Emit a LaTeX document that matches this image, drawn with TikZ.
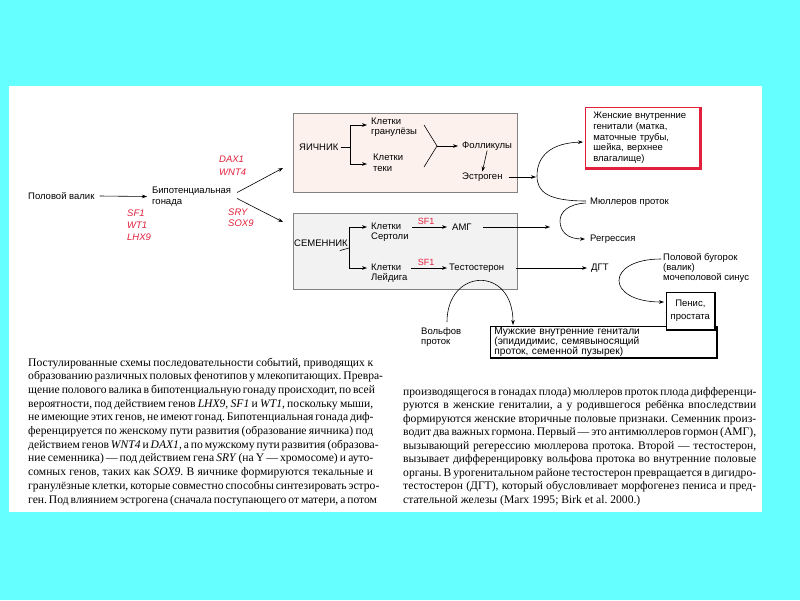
\documentclass[tikz,border=0pt]{standalone}
\usepackage{fontspec}
\setmainfont{Liberation Serif}
\setsansfont{Liberation Sans}
\usetikzlibrary{arrows.meta}
\definecolor{bgcyan}{RGB}{102,255,255}
\definecolor{gred}{RGB}{226,32,60}
\definecolor{ovfill}{RGB}{252,241,236}
\definecolor{tsfill}{RGB}{242,242,242}
\definecolor{boxgray}{RGB}{130,130,130}
\frenchspacing
\begin{document}
\begin{tikzpicture}[x=1pt,y=-1pt,
  lbl/.style={font=\sffamily\fontsize{9.5}{10.5}\selectfont, inner sep=0pt, align=left},
  gene/.style={font=\sffamily\itshape\fontsize{9.5}{12}\selectfont, text=gred, inner sep=0pt, align=left},
  sfgene/.style={font=\sffamily\fontsize{9}{10}\selectfont, text=gred, inner sep=0pt},
  arr/.style={-{Stealth[length=5pt,width=3.6pt]}, line width=0.6pt},
  ln/.style={line width=0.6pt},
  gonad/.style={draw=boxgray, line width=0.8pt, anchor=north west, minimum width=224pt, inner sep=0pt},
  outbox/.style={draw, line width=0.7pt, fill=white, anchor=north west, font=\sffamily\fontsize{9.5}{10.8}\selectfont},
  capl/.style={font=\rmfamily\fontsize{11.6}{13.7}\selectfont, inner sep=0pt, anchor=base west}
]
\useasboundingbox (0,0) rectangle (800,600);
\fill[bgcyan] (0,0) rectangle (800,600);
\fill[white] (9,86) rectangle (762,512);

% ---------- left part
\node[lbl, anchor=west] (valik) at (28,196) {Половой валик};
\node[lbl, anchor=west] (bip) at (152,196.5) {Бипотенциальная\\гонада};
\draw[arr] ([xshift=5pt]valik.east) -- ([xshift=-5pt]bip.west);
\node[gene, anchor=west] (g1) at (127,225.5) {SF1\\WT1\\LHX9};
\node[gene, anchor=west, font=\sffamily\itshape\fontsize{9.5}{13}\selectfont] (g2) at (219,165.5) {DAX1\\WNT4};
\node[gene, anchor=west, font=\sffamily\itshape\fontsize{9.5}{11}\selectfont] (g3) at (228,218) {SRY\\SOX9};
\coordinate (up) at (283,168);
\coordinate (dn) at (283,222);
\draw[arr] ([shift={(6pt,4pt)}]bip.east) -- (up);
\draw[arr] ([shift={(6pt,-2pt)}]bip.east) -- (dn);

% ---------- ovary
\node[gonad, fill=ovfill, minimum height=79pt] (ovbox) at (293,113) {};
\node[lbl, anchor=west] (yaich) at (299,147) {ЯИЧНИК};
\node[lbl, anchor=west] (gran) at (371,127) {Клетки\\гранулёзы};
\node[lbl, anchor=west] (teki) at (373,163) {Клетки\\теки};
\coordinate (ysplit) at (350,147);
\draw[ln] ([xshift=2pt]yaich.east) -- (ysplit);
\draw[arr] (ysplit) |- ([shift={(-4pt,2pt)}]gran.west);
\draw[arr] (ysplit) |- ([shift={(-6pt,-1pt)}]teki.west);
\coordinate (yj) at (437,146);
\draw[ln] (424,125) -- (yj) -- (424,167);
\node[lbl, anchor=west] (foll) at (462,146) {Фолликулы};
\draw[arr] (yj) -- ([xshift=-4pt]foll.west);
\node[lbl, anchor=west] (estr) at (462,177) {Эстроген};
\draw[arr] (foll.south) -- ([yshift=1pt]estr.north);
\coordinate (loopL) at (536,177);
\draw[arr] ([xshift=6pt]estr.east) -- (loopL);

% ---------- female targets
\node[outbox, draw=gred, minimum width=115pt, minimum height=61pt, text width=99pt,
      inner xsep=8pt, inner ysep=0pt, align=left] (fem) at (585,107)
  {Женские внутренние\\генитали (матка,\\маточные трубы,\\шейка, верхнее\\влагалище)};
\draw[gred, line width=2.6pt] (fem.north east) -- (fem.south east) -- (fem.south west);
\node[lbl, anchor=west] (mul) at (590,202) {Мюллеров проток};
\node[lbl, anchor=west] (regr) at (590,239) {Регрессия};
\coordinate (femin) at (583,142);
\draw[arr] ([shift={(-4pt,1pt)}]mul.west) .. controls (548,201) and (537,192) .. (537,176)
  .. controls (537,155) and (552,143) .. (femin);
\draw[arr] ([shift={(-4pt,-1pt)}]mul.west) .. controls (568,204) and (560,212) .. (560,221)
  .. controls (560,232) and (568,239) .. ([xshift=-5pt]regr.west);

% ---------- testis
\node[gonad, fill=tsfill, minimum height=76pt] (tsbox) at (293,213) {};
\node[lbl, anchor=west] (sem) at (294,243) {СЕМЕННИК};
\coordinate (sj) at (349,248);
\draw[ln] ([shift={(-8pt,-4pt)}]sem.south east) -- (sj);
\draw[arr] (sj) |- (367,227);
\draw[arr] (sj) |- (367,268);
\node[lbl, anchor=west] (sert) at (371,232) {Клетки\\Сертоли};
\node[lbl, anchor=west] (leyd) at (371,273) {Клетки\\Лейдига};
\node[lbl, anchor=west] (amg) at (452,227) {АМГ};
\node[lbl, anchor=west] (testo) at (449,268) {Тестостерон};
\draw[arr] ([xshift=3pt]sert.east |- amg.west) -- ([xshift=-5pt]amg.west);
\draw[arr] ([xshift=3pt]leyd.east |- testo.west) -- ([xshift=-2pt]testo.west);
\node[sfgene] (sf1a) at (426,221) {SF1};
\node[sfgene] (sf1b) at (426,262) {SF1};
\coordinate (amgend) at (550,227);
\draw[arr] ([xshift=11pt]amg.east) -- (amgend);
\node[lbl, anchor=west] (dgt) at (591,268) {ДГТ};
\draw[arr] ([xshift=12pt]testo.east) -- ([xshift=-4pt]dgt.west);

% ---------- male targets
\node[outbox, minimum width=226pt, minimum height=31pt, text width=218pt,
      inner xsep=4pt, inner ysep=0pt, align=left, font=\sffamily\fontsize{10.2}{9.7}\selectfont] (male) at (490,326)
  {Мужские внутренние генитали\\(эпидидимис, семявыносящий\\проток, семенной пузырек)};
\draw[line width=2.4pt] (male.north east) -- (male.south east) -- (male.south west);
\node[lbl, anchor=west] (volf) at (421,337) {Вольфов\\проток};
\coordinate (volfst) at (447,322);
\coordinate (malein) at (513,325);
\draw[arr] (volfst) .. controls (447,268) and (513,265) .. (malein);

\node[outbox, minimum width=48pt, minimum height=37pt, inner sep=0pt, align=center,
      font=\sffamily\fontsize{9.5}{12.5}\selectfont] (pen) at (666,292) {Пенис,\\простата};
\draw[line width=2.2pt] (pen.north east) -- (pen.south east) -- (pen.south west);
\node[lbl, anchor=west, font=\sffamily\fontsize{9.5}{10}\selectfont] (bug) at (663,268)
  {Половой бугорок\\(валик)\\мочеполовой синус};
\coordinate (bugst) at (661,259);
\coordinate (penin) at (664,302);
\draw[arr] (bugst) .. controls (605,259) and (605,302) .. (penin);

% ---------- caption
\foreach \t [count=\i] in {
 {Постулированные схемы последовательности событий, приводящих к},
 {образованию различных половых фенотипов у млекопитающих. Превра-},
 {щение полового валика в бипотенциальную гонаду происходит, по всей},
 {вероятности, под действием генов \textit{LHX9, SF1} и \textit{WT1}, поскольку мыши,},
 {не имеющие этих генов, не имеют гонад. Бипотенциальная гонада диф-},
 {ференцируется по женскому пути развития (образование яичника) под},
 {действием генов \textit{WNT4} и \textit{DAX1}, а по мужскому пути развития (образова-},
 {ние семенника) — под действием гена \textit{SRY} (на Y — хромосоме) и ауто-},
 {сомных генов, таких как \textit{SOX9.} В яичнике формируются текальные и},
 {гранулёзные клетки, которые совместно способны синтезировать эстро-},
 {ген. Под влиянием эстрогена (сначала поступающего от матери, а потом}}
 \node[capl] (cl\i) at (28,{366+13.7*(\i-1)}) {\hbox to 345pt{\t}};

\foreach \t [count=\i] in {
 {производящегося в гонадах плода) мюллеров проток плода дифференци-},
 {руются в женские гениталии, а у родившегося ребёнка впоследствии},
 {формируются женские вторичные половые признаки. Семенник произ-},
 {водит два важных гормона. Первый — это антимюллеров гормон (АМГ),},
 {вызывающий регерессию мюллерова протока. Второй — тестостерон,},
 {вызывает дифференцировку вольфова протока во внутренние половые},
 {органы. В урогенитальном районе тестостерон превращается в дигидро-},
 {тестостерон (ДГТ), который обусловливает морфогенез пениса и пред-}}
 \node[capl] (cr\i) at (403,{395+13.5*(\i-1)}) {\hbox to 353pt{\t}};
\node[capl] (cr9) at (403,{395+13.5*8}) {стательной железы (Marx 1995; Birk et al. 2000.)};
\end{tikzpicture}
\end{document}
